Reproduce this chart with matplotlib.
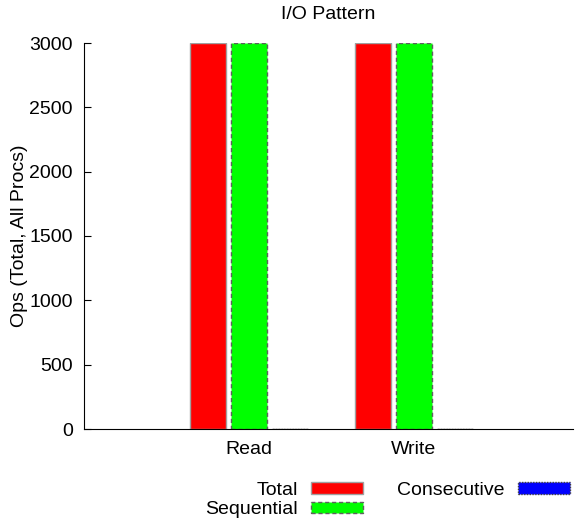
import matplotlib.pyplot as plt
import numpy as np

plt.rcParams['font.family'] = ['Liberation Sans', 'DejaVu Sans']

categories = ["Read", "Write"]
series = ["Total", "Sequential", "Consecutive"]
total = [3000, 3000]
sequential = [3000, 3000]
consecutive = [0, 0]

fs = 14
fig = plt.figure(figsize=(5.75, 5.19), dpi=100)
ax = fig.add_axes([84 / 575, 1 - 429 / 519, (573 - 84) / 575, (429 - 43) / 519])

x = np.arange(len(categories))
w = 0.22
ax.bar(x - 0.25, total, w, color="#ff0000", edgecolor="#a0a0a0", linewidth=1.0, label="Total")
ax.bar(x, sequential, w, color="#00ff00", edgecolor="#606060", linewidth=1.0,
       linestyle=(0, (3, 2)), label="Sequential")
ax.bar(x + 0.25, consecutive, w, color="#0000ff", edgecolor="#404040", linewidth=1.0,
       linestyle=(0, (1, 1)), label="Consecutive")

ax.set_xlim(-1.0, 1.964)
ax.set_ylim(0, 3000)
ax.set_yticks(np.arange(0, 3001, 500))
ax.set_xticks(x)
ax.set_xticklabels(categories, fontsize=fs)
ax.tick_params(axis='y', direction='in', length=5, labelsize=fs, pad=8)
ax.tick_params(axis='x', length=0, pad=9)
ax.spines['top'].set_visible(False)
ax.spines['right'].set_visible(False)
ax.set_ylabel("Ops (Total, All Procs)", fontsize=fs)
ax.yaxis.set_label_coords(-0.115, 0.5)
ax.set_title("I/O Pattern", fontsize=fs, pad=17)

handles, labels = ax.get_legend_handles_labels()
fig.legend(handles, labels, ncol=2, loc='upper right',
           bbox_to_anchor=(570 / 575, 1 - 482 / 519),
           frameon=False, markerfirst=False, fontsize=fs, handlelength=2.68,
           handleheight=0.55, labelspacing=0.12, columnspacing=1.75, handletextpad=0.67,
           borderpad=0, borderaxespad=0)

fig.savefig("out.png", dpi=100)
